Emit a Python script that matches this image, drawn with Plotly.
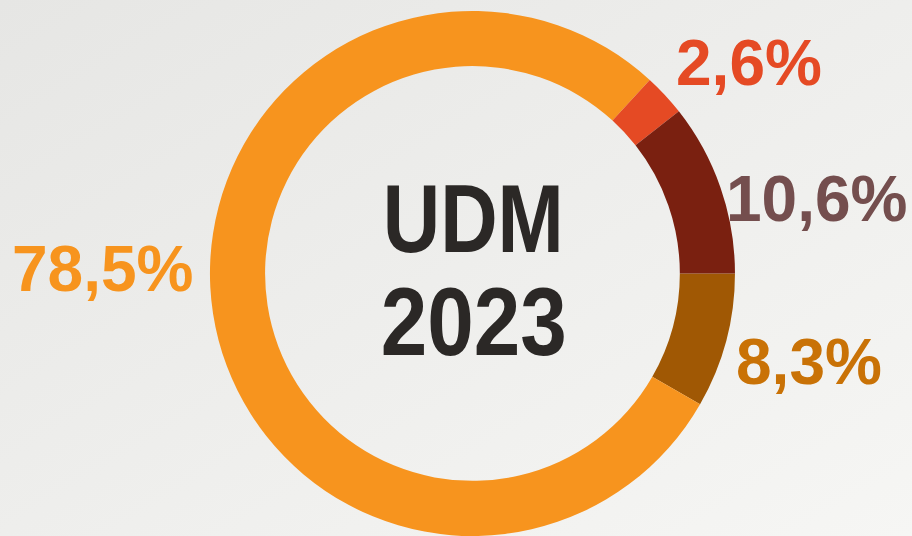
import plotly.graph_objects as go

# Data
labels = ["Segment 8,3%", "Segment 78,5%", "Segment 2,6%", "Segment 10,6%"]
values = [8.3, 78.5, 2.6, 10.6]
value_texts = ["8,3%", "78,5%", "2,6%", "10,6%"]
slice_colors = ["#A05804", "#F7941E", "#E54A24", "#7A2010"]
label_colors = ["#C97206", "#F7941E", "#E54A24", "#744E4E"]
center_lines = ["UDM", "2023"]

W, H = 912, 536

fig = go.Figure()
fig.add_trace(go.Pie(
    labels=labels,
    values=values,
    sort=False,
    direction="clockwise",
    rotation=90,
    hole=0.79,
    textinfo="none",
    hoverinfo="label+value",
    marker=dict(colors=slice_colors, line=dict(width=0)),
    domain=dict(x=[0.2302, 0.8059], y=[0.0, 0.9795]),
    showlegend=False,
))

bg_svg = (
    "data:image/svg+xml;utf8,"
    "<svg xmlns='http://www.w3.org/2000/svg' width='912' height='536'>"
    "<defs><linearGradient id='g' x1='0' y1='0' x2='1' y2='1'>"
    "<stop offset='0' stop-color='%23E6E6E4'/>"
    "<stop offset='1' stop-color='%23F6F6F4'/>"
    "</linearGradient></defs>"
    "<rect width='912' height='536' fill='url(%23g)'/></svg>"
)
fig.add_layout_image(dict(
    source=bg_svg, xref="paper", yref="paper", x=0, y=1,
    sizex=1, sizey=1, xanchor="left", yanchor="top",
    sizing="stretch", layer="below",
))

font_lbl = "Liberation Sans, Arial, sans-serif"
# value labels: (x_left_px, y_mid_px)
label_pos = {
    "8,3%": (734, 362),
    "78,5%": (10, 269),
    "2,6%": (674, 63),
    "10,6%": (724, 199),
}
anns = []
for t, c in zip(value_texts, label_colors):
    px, py = label_pos[t]
    anns.append(dict(
        text=f"<b>{t}</b>", x=px / W, y=1 - py / H, xref="paper", yref="paper",
        xanchor="left", yanchor="middle", showarrow=False,
        font=dict(family=font_lbl, size=64, color=c),
    ))

center_y = [218, 321]
for t, cy in zip(center_lines, center_y):
    anns.append(dict(
        text=f"<b>{t}</b>", x=473.5 / W, y=1 - cy / H, xref="paper", yref="paper",
        xanchor="center", yanchor="middle", showarrow=False,
        font=dict(family=font_lbl, size=96, color="#2B2826"),
    ))

fig.update_layout(
    width=W, height=H,
    margin=dict(l=0, r=0, t=0, b=0),
    paper_bgcolor="#EEEEEC",
    plot_bgcolor="rgba(0,0,0,0)",
    annotations=anns,
)

post = """
document.body.style.margin = '0';
document.body.style.padding = '0';
var widths = {'UDM': 181, '2023': 186};
document.querySelectorAll('.annotation-text').forEach(function(el){
  var t = el.textContent.trim();
  if (widths[t]) {
    el.setAttribute('textLength', widths[t]);
    el.setAttribute('lengthAdjust', 'spacingAndGlyphs');
  }
});
"""

fig.write_html("out.html", post_script=post, config={"displayModeBar": False})
